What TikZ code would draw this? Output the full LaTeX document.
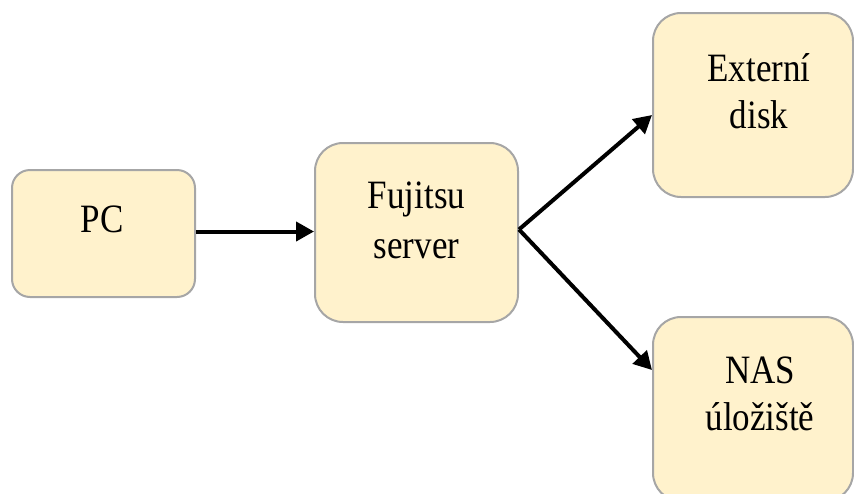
\documentclass[tikz,border=0pt]{standalone}
\usepackage{graphicx}
\usepackage{fontspec}
\setmainfont{Liberation Serif}
\usetikzlibrary{arrows.meta}
\definecolor{boxfill}{HTML}{FFF2CC}
\definecolor{boxgray}{HTML}{A6A6A6}
\newcommand{\vstretch}[1]{\scalebox{1}[1.15]{#1}}
\begin{document}
\begin{tikzpicture}[x=1pt,y=-1pt,
  box/.style={draw=boxgray, fill=boxfill, line width=2pt, rounded corners=24pt, inner sep=0pt},
  lbl/.style={font=\fontsize{35}{42}\selectfont, anchor=base, inner sep=0pt},
  conn/.style={line width=4pt, -{Triangle[length=18pt,width=19pt]}}]
  \useasboundingbox (0,0) rectangle (854,493);
  \clip (0,0) rectangle (854,493);
  % boxes
  \node[box, rounded corners=18pt, minimum width=183pt, minimum height=127pt] (pc) at (103.5,233.5) {};
  \node[box, rounded corners=28pt, minimum width=203pt, minimum height=179pt] (fs) at (416.5,232.5) {};
  \node[box, rounded corners=28pt, minimum width=200pt, minimum height=184pt] (ext) at (753,105) {};
  \node[box, rounded corners=28pt, minimum width=200pt, minimum height=184pt] (nas) at (753,409) {};
  % texts
  \node[lbl] (pct) at (102,232) {\vstretch{PC}};
  \node[lbl] (fst1) at (416.5,208) {\vstretch{Fujitsu}};
  \node[lbl] (fst2) at (416.5,258) {\vstretch{server}};
  \node[lbl] (ext1) at (759,81) {\vstretch{Externí}};
  \node[lbl] (ext2) at (759,128) {\vstretch{disk}};
  \node[lbl] (nas1) at (760,383) {\vstretch{NAS}};
  \node[lbl] (nas2) at (760,430) {\vstretch{úložiště}};
  % connectors
  \coordinate (split) at ([yshift=3pt]fs.east);
  \draw[conn] ([yshift=2pt]pc.east) -- ([yshift=2pt]pc.east -| fs.west);
  \draw[conn] (split) -- ([yshift=-10pt]ext.west);
  \draw[conn] (split) -- ([yshift=39pt]nas.west);
\end{tikzpicture}
\end{document}
